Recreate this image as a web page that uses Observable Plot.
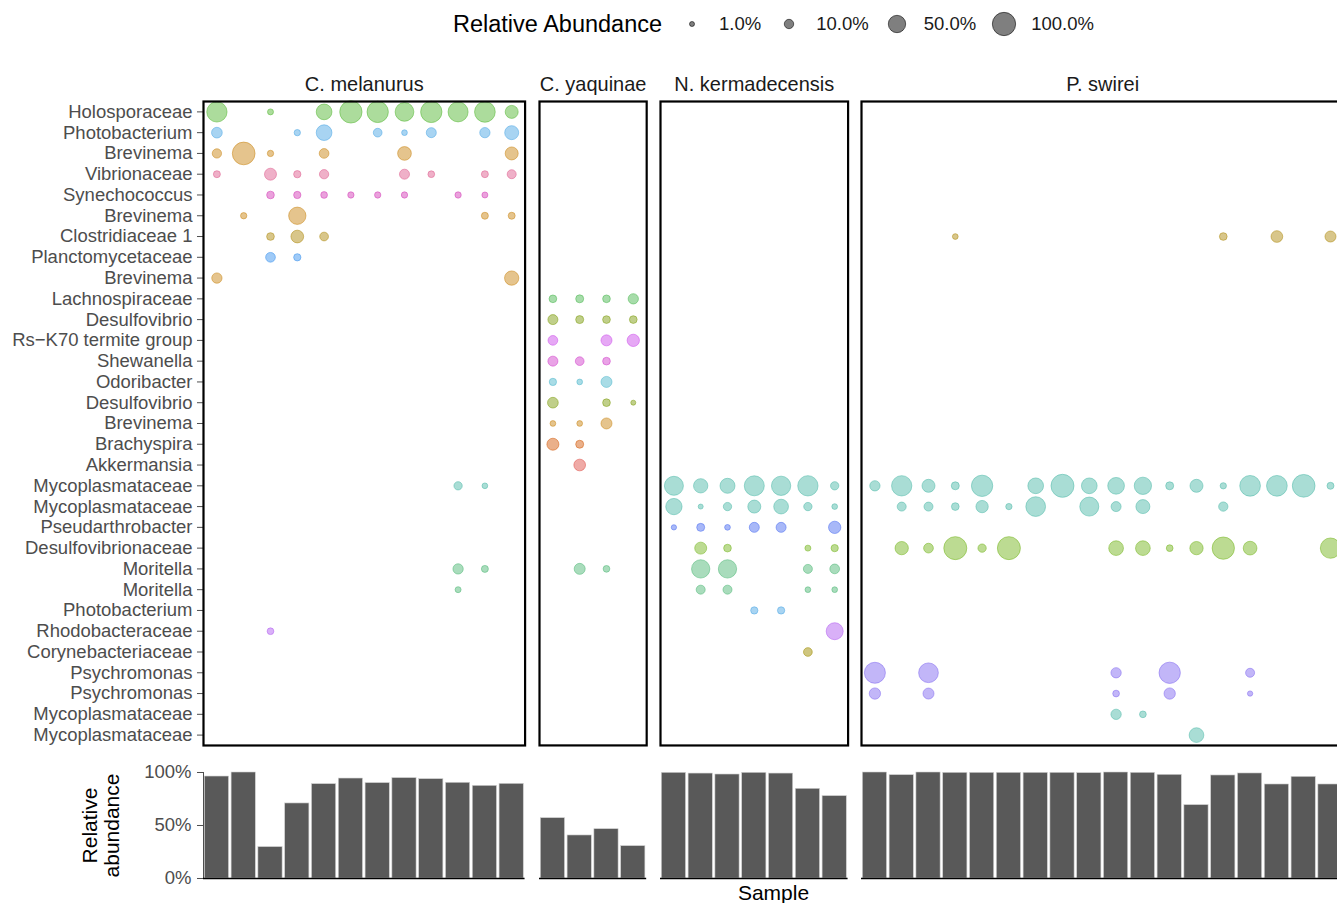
<!DOCTYPE html>
<html>
<head>
<meta charset="utf-8">
<script src="https://cdn.jsdelivr.net/npm/d3@7"></script>
<script src="https://cdn.jsdelivr.net/npm/@observablehq/plot@0.6"></script>
<style>
  html, body { margin: 0; padding: 0; background: #fff; overflow: hidden; }
  body { font-family: "Liberation Sans", Arial, Helvetica, sans-serif; }
  #root { position: relative; width: 1400px; height: 903px; }
  .abs { position: absolute; }
  #legend { position: absolute; top: 8px; left: 453px; height: 32px; display: flex; align-items: center; white-space: nowrap; }
  #legend .title { font-size: 23.5px; color: #000; margin-right: 17px; }
  #legend .lab { font-size: 18.5px; color: #1a1a1a; margin-left: 14px; margin-right: 15px; }
  #xlabel { position: absolute; top: 880px; left: 203px; width: 1141px; text-align: center; font-size: 21px; line-height: 26px; color: #000; }
</style>
</head>
<body>
<div id="root">
  <div id="legend"></div>
  <div id="xlabel">Sample</div>
</div>
<script>
// ---------------- DATA ----------------
const taxa = ["Holosporaceae","Photobacterium","Brevinema","Vibrionaceae","Synechococcus","Brevinema",
  "Clostridiaceae 1","Planctomycetaceae","Brevinema","Lachnospiraceae","Desulfovibrio","Rs\u2212K70 termite group",
  "Shewanella","Odoribacter","Desulfovibrio","Brevinema","Brachyspira","Akkermansia","Mycoplasmataceae",
  "Mycoplasmataceae","Pseudarthrobacter","Desulfovibrionaceae","Moritella","Moritella","Photobacterium",
  "Rhodobacteraceae","Corynebacteriaceae","Psychromonas","Psychromonas","Mycoplasmataceae","Mycoplasmataceae"];

const taxonColors = ["#59b939","#51a9e5","#cb891b","#df6191","#d543b9","#cb891b",
  "#b18d15","#3f95ef","#cb891b","#4fb955","#819f15","#cd51eb",
  "#d347cd","#53b9cd","#819f15","#cb891b","#d56115","#df554d","#53bbab",
  "#53bbab","#5171f1","#79b725","#53b979","#53b979","#51a9e5",
  "#b361f1","#9f8d00","#856df1","#856df1","#53bbab","#53bbab"];

const hosts = ["C. melanurus","C. yaquinae","N. kermadecensis","P. swirei"];
const sampleCounts = [12, 4, 7, 18];

// [taxon row (1-based), sample (1-based), relative abundance %]
const melanurusCells = [
  [1,1,72.7],[1,3,2.2],[1,5,39.2],[1,6,90.4],[1,7,81.3],[1,8,59.9],[1,9,81.3],[1,10,70.2],[1,11,76.1],[1,12,24.3],
  [2,1,14.5],[2,4,2.7],[2,5,39.2],[2,7,8.0],[2,8,1.8],[2,9,12.0],[2,11,13.0],[2,12,29.4],
  [3,1,9.7],[3,2,94.2],[3,3,2.7],[3,5,11.0],[3,8,27.9],[3,12,24.3],
  [4,1,3.9],[4,3,19.7],[4,4,4.5],[4,5,9.7],[4,8,12.0],[4,9,3.4],[4,11,3.9],[4,12,8.8],
  [5,3,5.4],[5,4,4.5],[5,5,3.4],[5,6,2.7],[5,7,2.7],[5,8,2.7],[5,10,2.7],[5,11,2.2],
  [6,2,2.7],[6,4,49.7],[6,11,3.9],[6,12,3.9],
  [7,3,5.4],[7,4,22.9],[7,5,8.0],
  [8,3,11.0],[8,4,4.5],
  [9,1,13.0],[9,12,31.1],
  [19,10,6.9],[19,11,1.8],
  [23,10,13.0],[23,11,3.9],
  [24,10,2.2],
  [26,3,3.4]
];
const yaquinaeCells = [
  [10,1,5.4],[10,2,6.1],[10,3,5.4],[10,4,13.0],
  [11,1,12.0],[11,2,6.1],[11,3,5.4],[11,4,5.4],
  [12,1,11.0],[12,3,15.6],[12,4,21.1],
  [13,1,12.0],[13,2,8.0],[13,3,5.4],
  [14,1,4.5],[14,2,1.8],[14,3,15.6],
  [15,1,14.5],[15,3,5.4],[15,4,1.0],
  [16,1,1.8],[16,2,1.8],[16,3,15.6],
  [17,1,19.7],[17,2,6.1],
  [18,2,18.4],
  [23,2,15.6],[23,3,3.4]
];
const kermadecensisCells = [
  [19,1,62.2],[19,2,31.1],[19,3,35.0],[19,4,70.2],[19,5,64.5],[19,6,72.7],[19,7,6.9],
  [20,1,43.0],[20,2,1.0],[20,3,6.9],[20,4,24.3],[20,5,33.3],[20,6,6.9],[20,7,1.8],
  [21,1,1.3],[21,2,6.1],[21,3,1.8],[21,4,12.0],[21,5,12.0],[21,7,21.1],
  [22,2,19.7],[22,3,5.4],[22,6,2.2],[22,7,4.5],
  [23,2,56.9],[23,3,56.9],[23,6,8.8],[23,7,11.0],
  [24,2,8.8],[24,3,8.8],[24,6,1.8],[24,7,1.8],
  [25,4,4.5],[25,5,4.5],
  [26,7,47.6],
  [27,6,8.0]
];
const swireiCells = [
  [7,4,1.8],[7,14,5.4],[7,16,18.4],[7,18,15.6],
  [19,1,13.0],[19,2,72.7],[19,3,24.3],[19,4,6.1],[19,5,81.3],[19,7,39.2],[19,8,97.1],[19,9,39.2],[19,10,45.6],
  [19,11,49.7],[19,12,6.1],[19,13,24.3],[19,14,2.7],[19,15,76.1],[19,16,76.1],[19,17,94.2],[19,18,3.9],
  [20,2,8.8],[20,3,8.8],[20,4,5.4],[20,5,21.1],[20,6,2.7],[20,7,67.7],[20,9,62.2],[20,10,12.0],[20,11,29.4],[20,14,9.7],
  [22,2,25.8],[22,3,11.0],[22,4,97.1],[22,5,6.9],[22,6,97.1],[22,10,33.3],[22,11,33.3],[22,12,3.4],[22,13,25.8],
  [22,14,90.4],[22,15,27.9],[22,18,72.7],
  [28,1,78.7],[28,3,67.7],[28,10,13.0],[28,12,81.3],[28,15,8.8],
  [29,1,16.8],[29,3,15.6],[29,10,3.4],[29,12,16.8],[29,15,1.3],
  [30,10,13.0],[30,11,3.4],
  [31,13,33.3]
];

const melanurusTotals = [0.962,1.0,0.296,0.708,0.89,0.943,0.90,0.947,0.937,0.903,0.874,0.893];
const yaquinaeTotals = [0.569,0.406,0.465,0.305];
const kermadecensisTotals = [0.997,0.99,0.981,0.997,0.99,0.846,0.777];
const swireiTotals = [1.0,0.975,1.0,0.997,0.997,0.997,0.997,0.997,0.994,1.0,0.997,0.978,0.692,0.972,0.991,0.887,0.959,0.887];

const legendValues = [1, 10, 50, 100];
const legendLabels = ["1.0%","10.0%","50.0%","100.0%"];

// ---------------- LAYOUT ----------------
const cellsByHost = [melanurusCells, yaquinaeCells, kermadecensisCells, swireiCells];
const totalsByHost = [melanurusTotals, yaquinaeTotals, kermadecensisTotals, swireiTotals];
const FONT = '"Liberation Sans", Arial, Helvetica, sans-serif';
const step = 26.8, gap = 14, firstLeft = 203;
const rOpts = {type: "sqrt", domain: [1, 100], range: [2.5, 11.65]};
const root = document.getElementById("root");

let start = firstLeft;
hosts.forEach((host, k) => {
  const n = sampleCounts[k];
  const w = n * step;
  const ml = k === 0 ? firstLeft : 2;
  const samples = d3.range(1, n + 1);
  const cells = cellsByHost[k].map(([row, sample, value]) => ({row, sample, value, color: taxonColors[row - 1]}));

  const bubbles = Plot.plot({
    width: ml + w + 2, height: 687,
    marginLeft: ml, marginRight: 2, marginTop: 41, marginBottom: 2,
    style: {fontFamily: FONT, fontSize: "18.5px", color: "#4d4d4d", background: "transparent", overflow: "visible"},
    x: {type: "band", domain: samples, padding: 0, round: false, axis: null},
    y: {type: "band", domain: d3.range(1, 32), padding: 0, round: false, axis: k === 0 ? "left" : null,
        tickFormat: i => taxa[i - 1], tickSize: 6, tickPadding: 5, label: null},
    r: rOpts,
    color: {type: "identity"},
    marks: [
      Plot.dot(cells, {x: "sample", y: "row", r: "value", fill: "color", fillOpacity: 0.5,
        stroke: "color", strokeOpacity: 0.55, strokeWidth: 1}),
      Plot.frame({stroke: "#000", strokeWidth: 2.2}),
      Plot.text([host], {frameAnchor: "top", dy: -17, textAnchor: "middle", lineAnchor: "middle",
        fontSize: 20, fill: "#1a1a1a"})
    ]
  });
  bubbles.classList.add("abs");
  bubbles.style.left = (start - ml) + "px";
  bubbles.style.top = "60px";
  root.appendChild(bubbles);

  const bars = totalsByHost[k].map((value, i) => ({sample: i + 1, value}));
  const barMarks = [
    Plot.barY(bars, {x: "sample", y: "value", fill: "#595959", stroke: "#d0d0d0", strokeWidth: 0.6,
      insetLeft: 1.3, insetRight: 1.3}),
    Plot.ruleY([0], {stroke: "#000", strokeWidth: 1.6})
  ];
  if (k === 0) {
    barMarks.push(Plot.text(["Relative\nabundance"], {frameAnchor: "left", dx: -103, rotate: -90,
      textAnchor: "middle", lineAnchor: "middle", lineHeight: 1.05, fontSize: 21, fill: "#000"}));
  }
  const barPlot = Plot.plot({
    width: ml + w + 2, height: 130,
    marginLeft: ml, marginRight: 2, marginTop: 12, marginBottom: 12,
    style: {fontFamily: FONT, fontSize: "18.5px", color: "#4d4d4d", background: "transparent", overflow: "visible"},
    x: {type: "band", domain: samples, padding: 0, round: false, axis: null},
    y: {domain: [0, 1], ticks: [0, 0.5, 1], tickFormat: d3.format(".0%"), axis: k === 0 ? "left" : null,
        label: null, tickSize: 6, tickPadding: 6, line: true},
    marks: barMarks
  });
  barPlot.classList.add("abs");
  barPlot.style.left = (start - ml) + "px";
  barPlot.style.top = "760px";
  root.appendChild(barPlot);

  start += w + gap;
});

// ---------------- LEGEND ----------------
const rScale = Plot.scale({r: rOpts});
const legend = document.getElementById("legend");
const t = document.createElement("span");
t.className = "title";
t.textContent = "Relative Abundance";
legend.appendChild(t);
legendValues.forEach((v, i) => {
  const ns = "http://www.w3.org/2000/svg";
  const svg = document.createElementNS(ns, "svg");
  svg.setAttribute("width", 26); svg.setAttribute("height", 30);
  const c = document.createElementNS(ns, "circle");
  c.setAttribute("cx", 13); c.setAttribute("cy", 15); c.setAttribute("r", rScale.apply(v));
  c.setAttribute("fill", "#000"); c.setAttribute("fill-opacity", 0.5);
  c.setAttribute("stroke", "#000"); c.setAttribute("stroke-opacity", 0.55);
  svg.appendChild(c);
  legend.appendChild(svg);
  const l = document.createElement("span");
  l.className = "lab";
  l.textContent = legendLabels[i];
  legend.appendChild(l);
});
</script>
</body>
</html>
